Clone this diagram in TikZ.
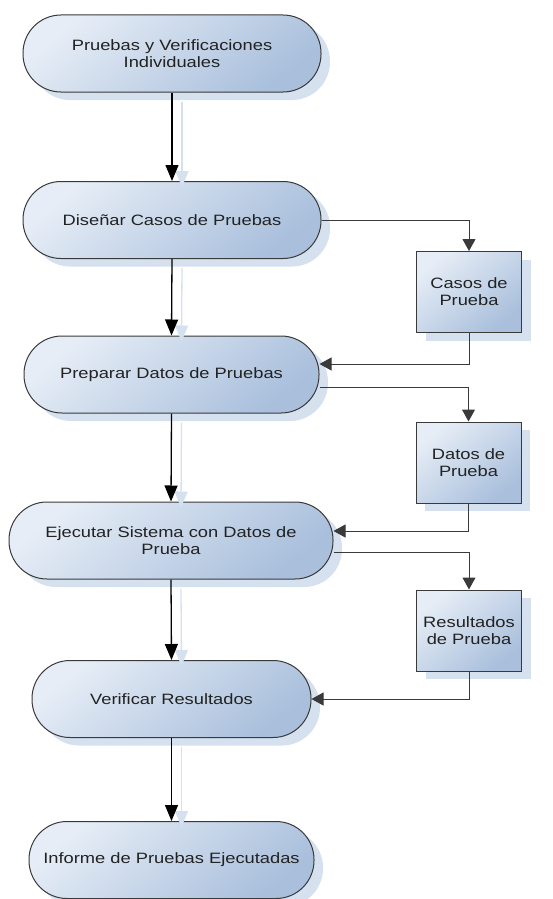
\documentclass[tikz,border=0pt]{standalone}
\usepackage{fontspec}
\setmainfont{Liberation Sans}[FakeStretch=1.22]
\usetikzlibrary{arrows.meta,shadows}
\definecolor{fillA}{HTML}{E6EDF6}
\definecolor{fillB}{HTML}{A9BFDC}
\definecolor{shadowblue}{HTML}{D6E1EF}
\definecolor{edgegray}{HTML}{3A3A3A}
\definecolor{txtgray}{HTML}{222222}
\begin{document}
\begin{tikzpicture}[x=1pt,y=-1pt,
  font=\fontsize{15}{17}\selectfont,
  basebox/.style={draw=edgegray, line width=1pt, top color=fillA, bottom color=fillB,
    shading angle=40, text=txtgray, align=center, inner sep=0pt,
    drop shadow={shadow xshift=9pt, shadow yshift=-8pt, fill=shadowblue, opacity=1}},
  procbox/.style={basebox, rounded corners=38pt, minimum width=#1, minimum height=77pt},
  databox/.style={basebox, minimum width=105pt, minimum height=81pt},
  mainarrow/.style={draw=black, line width=1.3pt, -{Triangle[length=16pt,width=13pt]}},
  sidearrow/.style={draw=edgegray, line width=1pt, -{Triangle[length=12pt,width=13pt]}},
  shadowarrow/.style={draw=shadowblue, line width=1.3pt, -{Triangle[length=16pt,width=13pt]}}
]
\useasboundingbox (0,0) rectangle (552,899);

% process nodes
\node[procbox=298pt] (n1) at (172,53.5) {Pruebas y Verificaciones\\Individuales};
\node[procbox=298pt] (n2) at (172,220) {Diseñar Casos de Pruebas};
\node[procbox=295pt] (n3) at (171.5,374.5) {Preparar Datos de Pruebas};
\node[procbox=324pt] (n4) at (171,540.5) {Ejecutar Sistema con Datos de\\Prueba};
\node[procbox=279pt] (n5) at (171.5,699) {Verificar Resultados};
\node[procbox=285pt] (n6) at (171.5,860) {Informe de Pruebas Ejecutadas};

% data nodes
\node[databox] (b1) at (469,292) {Casos de\\Prueba};
\node[databox] (b2) at (468.5,462.5) {Datos de\\Prueba};
\node[databox] (b3) at (469,630.5) {Resultados\\de Prueba};

% shadow connectors
\foreach \a/\b in {n1/n2,n2/n3,n3/n4,n4/n5,n5/n6}{
  \draw[shadowarrow] ([xshift=10pt,yshift=-9pt]\a.south) -- ([xshift=10pt,yshift=-6pt]\b.north);
}

% main connectors
\foreach \a/\b in {n1/n2,n2/n3,n3/n4,n4/n5,n5/n6}{
  \draw[mainarrow] (\a.south) -- (\b.north);
}

% side connectors
\draw[sidearrow] (n2.east) -| (b1.north);
\draw[sidearrow] (b1.south) |- ([yshift=10.5pt]n3.east);
\draw[sidearrow] ([yshift=-12.5pt]n3.east) -| (b2.north);
\draw[sidearrow] (b2.south) |- ([yshift=9.5pt]n4.east);
\draw[sidearrow] ([yshift=-11.5pt]n4.east) -| (b3.north);
\draw[sidearrow] (b3.south) |- (n5.east);
\end{tikzpicture}
\end{document}
